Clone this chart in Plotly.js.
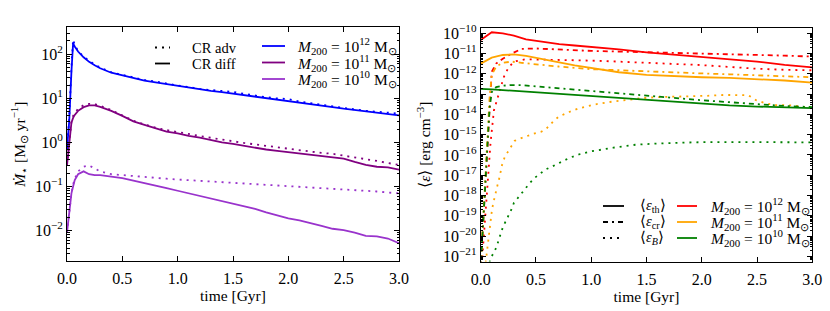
<!DOCTYPE html>
<html><head><meta charset="utf-8">
<script src="https://cdn.plot.ly/plotly-3.0.1.min.js"></script>
<style>html,body{margin:0;padding:0;background:#fff;}#chart{width:830px;height:311px;}</style>
</head><body><div id="chart"></div>
<script>
// ---------- Left panel: star formation rate [Msun/yr] ----------
const tSfr = [0, 0.02, 0.04, 0.055, 0.07, 0.1, 0.15, 0.2, 0.25, 0.3, 0.4, 0.5, 0.6, 0.7, 0.8, 0.9, 1.0, 1.1, 1.2, 1.3, 1.4, 1.5, 1.6, 1.7, 1.8, 1.9, 2.0, 2.1, 2.2, 2.3, 2.4, 2.5, 2.6, 2.7, 2.8, 2.9, 3.0];
const sfr12Diff = [0.7, 3, 40, 175, 150, 115, 85, 67, 56, 48, 38, 33, 29, 25, 23, 21, 19, 17.5, 15.8, 14.8, 13.8, 12.8, 11.8, 11.0, 10.2, 9.4, 8.8, 8.0, 7.4, 6.8, 6.3, 5.8, 5.4, 5.0, 4.7, 4.4, 4.1];
const sfr12Adv  = [0.7, 3.5, 50, 215, 160, 118, 88, 70, 58, 50, 39, 34, 30, 26, 24, 21.5, 19.5, 18, 16.3, 15.4, 14.6, 14.0, 12.6, 11.4, 10.6, 9.9, 9.6, 8.4, 7.7, 7.1, 6.5, 6.0, 5.6, 5.2, 4.9, 4.7, 4.5];
const sfr11Diff = [0.3, 1.0, 2.8, 3.6, 4.2, 5.2, 6.3, 6.9, 6.9, 6.4, 5.2, 4.0, 3.0, 2.5, 2.1, 1.75, 1.6, 1.4, 1.28, 1.12, 1.0, 0.92, 0.83, 0.75, 0.69, 0.64, 0.60, 0.56, 0.53, 0.50, 0.47, 0.43, 0.36, 0.31, 0.28, 0.27, 0.24];
const sfr11Adv  = [0.3, 1.0, 3.0, 4.0, 4.6, 5.8, 7.0, 7.5, 7.4, 6.8, 5.4, 4.1, 3.1, 2.55, 2.15, 1.9, 1.7, 1.55, 1.4, 1.27, 1.15, 1.05, 0.97, 0.9, 0.83, 0.77, 0.72, 0.67, 0.62, 0.58, 0.55, 0.5, 0.46, 0.42, 0.38, 0.34, 0.31];
const sfr10Diff = [0.009, 0.03, 0.07, 0.1, 0.14, 0.19, 0.22, 0.19, 0.18, 0.18, 0.17, 0.155, 0.135, 0.12, 0.105, 0.092, 0.08, 0.07, 0.061, 0.054, 0.048, 0.042, 0.036, 0.031, 0.026, 0.022, 0.019, 0.017, 0.015, 0.0128, 0.011, 0.0102, 0.009, 0.0076, 0.0074, 0.0066, 0.0052];
const sfr10Adv  = [0.009, 0.03, 0.07, 0.11, 0.15, 0.22, 0.28, 0.30, 0.26, 0.22, 0.19, 0.18, 0.172, 0.165, 0.157, 0.15, 0.144, 0.139, 0.134, 0.13, 0.126, 0.122, 0.118, 0.114, 0.11, 0.107, 0.104, 0.1, 0.097, 0.093, 0.09, 0.086, 0.083, 0.08, 0.077, 0.073, 0.07];

// ---------- Right panel: mean energy densities [erg/cm^3] ----------
const tTh = [0, 0.05, 0.1, 0.2, 0.3, 0.41, 0.55, 0.71, 0.85, 1.0, 1.25, 1.5, 1.75, 2.0, 2.25, 2.5, 2.75, 3.0];
const eTh12 = [4.7e-11, 7.6e-11, 1.12e-10, 1.0e-10, 7.6e-11, 5.0e-11, 3.8e-11, 2.95e-11, 2.5e-11, 2.15e-11, 1.6e-11, 1.15e-11, 8.9e-12, 7.1e-12, 5.4e-12, 4.0e-12, 2.8e-12, 2.1e-12];
const eTh11 = [3.2e-12, 4.7e-12, 6.3e-12, 8.5e-12, 9.1e-12, 7.6e-12, 5.6e-12, 3.7e-12, 2.6e-12, 1.9e-12, 1.2e-12, 8.9e-13, 7.6e-13, 6.8e-13, 6.3e-13, 5.6e-13, 4.7e-13, 3.7e-13];
const eTh10 = [1.8e-13, 1.78e-13, 1.7e-13, 1.58e-13, 1.45e-13, 1.35e-13, 1.2e-13, 1.07e-13, 9.3e-14, 7.9e-14, 6.3e-14, 5.1e-14, 4.1e-14, 3.3e-14, 2.8e-14, 2.45e-14, 2.2e-14, 2.05e-14];

const tCr = [0, 0.02, 0.04, 0.06, 0.08, 0.1, 0.14, 0.2, 0.28, 0.37, 0.5, 0.7, 1.0, 1.25, 1.5, 1.75, 2.0, 2.25, 2.5, 2.75, 3.0];
const eCr12 = [3.2e-22, 3.2e-20, 3.2e-18, 5.0e-16, 5.0e-14, 1.26e-12, 3.2e-12, 5.6e-12, 1.0e-11, 1.7e-11, 1.78e-11, 1.58e-11, 1.35e-11, 1.26e-11, 1.17e-11, 1.12e-11, 1.05e-11, 9.5e-12, 8.7e-12, 7.9e-12, 7.1e-12];
const eCr11 = [3.2e-22, 3.2e-20, 3.2e-18, 6.3e-16, 6.3e-14, 8.9e-13, 2.3e-12, 3.5e-12, 4.0e-12, 3.5e-12, 2.95e-12, 2.3e-12, 1.7e-12, 1.48e-12, 1.29e-12, 1.15e-12, 1.05e-12, 9.5e-13, 8.7e-13, 7.9e-13, 6.8e-13];
const eCr10 = [3.2e-22, 3.2e-20, 3.2e-18, 5.0e-16, 2.0e-14, 1.26e-13, 2.2e-13, 2.6e-13, 2.8e-13, 2.75e-13, 2.4e-13, 1.95e-13, 1.35e-13, 1.05e-13, 7.9e-14, 6.3e-14, 5.0e-14, 4.0e-14, 3.2e-14, 2.6e-14, 2.3e-14];

const tB12 = [0.01, 0.021, 0.03, 0.042, 0.051, 0.066, 0.081, 0.09, 0.12, 0.156, 0.186, 0.21, 0.25, 0.3, 0.4, 0.6, 0.8, 1.0, 1.25, 1.5, 1.75, 2.0, 2.25, 2.5, 2.75, 3.0];
const eB12 = [4.0e-22, 2.5e-21, 2.5e-20, 2.1e-19, 1.0e-18, 1.05e-17, 9.3e-17, 4.6e-16, 1.6e-14, 7.9e-14, 2.8e-13, 7.2e-13, 2.0e-12, 4.0e-12, 5.2e-12, 5.0e-12, 4.8e-12, 4.5e-12, 4.0e-12, 3.5e-12, 3.2e-12, 2.7e-12, 2.2e-12, 1.78e-12, 1.58e-12, 1.5e-12];
const tB11 = [0.045, 0.06, 0.07, 0.081, 0.09, 0.102, 0.115, 0.126, 0.14, 0.156, 0.17, 0.18, 0.193, 0.217, 0.247, 0.277, 0.307, 0.367, 0.43, 0.49, 0.55, 0.593, 0.633, 0.669, 0.71, 0.8, 0.89, 1.01, 1.15, 1.29, 1.45, 1.59, 1.75, 1.89, 2.05, 2.2, 2.35, 2.42, 2.49, 2.58, 2.67, 2.82, 3.0];
const eB11 = [5.0e-22, 2.5e-21, 7.9e-21, 3.2e-20, 7.9e-20, 2.0e-19, 4.5e-19, 8.9e-19, 1.78e-18, 4.0e-18, 7.9e-18, 1.41e-17, 3.2e-17, 7.9e-17, 1.48e-16, 2.8e-16, 5.0e-16, 6.8e-16, 9.1e-16, 1.17e-15, 1.41e-15, 1.95e-15, 3.3e-15, 5.4e-15, 7.9e-15, 1.32e-14, 2.0e-14, 2.95e-14, 4.0e-14, 5.1e-14, 6.3e-14, 7.1e-14, 7.4e-14, 7.6e-14, 8.3e-14, 9.1e-14, 9.3e-14, 8.9e-14, 5.1e-14, 3.5e-14, 2.9e-14, 2.8e-14, 2.05e-14];
const tB10 = [0.08, 0.09, 0.12, 0.146, 0.163, 0.18, 0.2, 0.226, 0.253, 0.277, 0.3, 0.337, 0.373, 0.412, 0.452, 0.494, 0.542, 0.593, 0.645, 0.693, 0.8, 0.9, 1.0, 1.2, 1.4, 1.6, 1.8, 2.0, 2.5, 3.0];
const eB10 = [5.0e-22, 8.3e-22, 1.58e-21, 3.2e-21, 6.6e-21, 1.26e-20, 2.7e-20, 5.4e-20, 1.05e-19, 2.0e-19, 4.3e-19, 7.4e-19, 1.41e-18, 2.5e-18, 4.6e-18, 7.9e-18, 1.26e-17, 2.0e-17, 2.7e-17, 3.6e-17, 7.1e-17, 1.12e-16, 1.51e-16, 2.3e-16, 3.2e-16, 3.7e-16, 4.1e-16, 4.3e-16, 4.3e-16, 4.2e-16];

// ---------- tick labels / legend names ----------
const xTickVals = [0, 0.5, 1.0, 1.5, 2.0, 2.5, 3.0];
const xTickText = ['0.0', '0.5', '1.0', '1.5', '2.0', '2.5', '3.0'];
const leftExp = [-2, -1, 0, 1, 2];
const rightExp = [-21, -20, -19, -18, -17, -16, -15, -14, -13, -12, -11, -10];
const massNames = ['<i>M</i><sub>200</sub> = 10<sup>12</sup> M<sub>⊙</sub>', '<i>M</i><sub>200</sub> = 10<sup>11</sup> M<sub>⊙</sub>', '<i>M</i><sub>200</sub> = 10<sup>10</sup> M<sub>⊙</sub>'];
const crNames = ['CR adv', 'CR diff'];
const eNames = ['⟨<i>ε</i><sub>th</sub>⟩', '⟨<i>ε</i><sub>cr</sub>⟩', '⟨<i>ε</i><sub><i>B</i></sub>⟩'];

const FONT = '"Liberation Serif", "Times New Roman", serif';
const FS = 15.5;    // titles and legends
const FT = 16;      // tick labels
const LW = 1.8;
const DOT = '2px,5px';
const DASHDOT = '5px,4px,2px,4px';
const cLeft = ['#0000ff', '#800080', '#9933cc'];
const cRight = ['#ff0000', '#ffa500', '#008000'];

function expLabel(p) { return '10<sup>' + (p < 0 ? '−' + (-p) : p) + '</sup>'; }
function minorVals(exps) {
  const v = [];
  for (let i = exps[0] - 1; i <= exps[exps.length - 1]; i++)
    for (let m = 2; m <= 9; m++) v.push(m * Math.pow(10, i));
  return v;
}

const traces = [];
const sDiff = [sfr12Diff, sfr11Diff, sfr10Diff];
const sAdv = [sfr12Adv, sfr11Adv, sfr10Adv];
for (let i = 0; i < 3; i++) {
  traces.push({x: tSfr, y: sAdv[i], mode: 'lines', line: {color: cLeft[i], width: LW, dash: DOT}, xaxis: 'x', yaxis: 'y'});
  traces.push({x: tSfr, y: sDiff[i], mode: 'lines', line: {color: cLeft[i], width: LW}, xaxis: 'x', yaxis: 'y'});
}
const eTh = [eTh12, eTh11, eTh10];
const eCr = [eCr12, eCr11, eCr10];
const tB = [tB12, tB11, tB10];
const eB = [eB12, eB11, eB10];
for (let i = 0; i < 3; i++) {
  traces.push({x: tB[i], y: eB[i], mode: 'lines', line: {color: cRight[i], width: LW, dash: DOT}, xaxis: 'x2', yaxis: 'y2'});
  traces.push({x: tCr, y: eCr[i], mode: 'lines', line: {color: cRight[i], width: LW, dash: DASHDOT}, xaxis: 'x2', yaxis: 'y2'});
  traces.push({x: tTh, y: eTh[i], mode: 'lines', line: {color: cRight[i], width: LW}, xaxis: 'x2', yaxis: 'y2'});
}

const W = 830, H = 311;
const px = x => x / W, py = y => 1 - y / H;
const axCommon = {
  showline: true, linecolor: 'black', linewidth: 1, mirror: 'ticks', ticks: 'inside',
  ticklen: 5, tickwidth: 1, tickcolor: 'black', showgrid: false, zeroline: false,
  tickfont: {family: FONT, size: FT, color: 'black'}
};
const xAxis = (dom, anchor) => Object.assign({}, axCommon, {
  domain: dom, anchor: anchor, range: [0, 3], tickmode: 'array', tickvals: xTickVals, ticktext: xTickText,
  ticklabelstandoff: 3,
  title: {text: 'time [Gyr]', font: {family: FONT, size: FS, color: 'black'}, standoff: 1}
});

// ---- hand-placed legends (sample line + label) ----
const shapes = [], annotations = [];
function legendRow(x0, x1, xt, y, style, label, fsize) {
  shapes.push({type: 'line', xref: 'paper', yref: 'paper', x0: px(x0), x1: px(x1), y0: py(y), y1: py(y),
    line: Object.assign({width: LW}, style)});
  annotations.push({xref: 'paper', yref: 'paper', x: px(xt), y: py(y), xanchor: 'left', yanchor: 'middle',
    showarrow: false, text: label, font: {family: FONT, size: fsize, color: 'black'}});
}
legendRow(155, 170, 190, 47.5, {color: 'black', dash: DOT}, crNames[0], 14.5);
legendRow(155, 170, 190, 63.5, {color: 'black'}, crNames[1], 14.5);
const leftRows = [46, 62.5, 79];
for (let i = 0; i < 3; i++) legendRow(262, 285, 295, leftRows[i], {color: cLeft[i]}, massNames[i], FS);
const rightRows = [206, 222, 238];
legendRow(603, 624, 638, rightRows[0], {color: 'black'}, eNames[0], 14.5);
legendRow(603, 624, 638, rightRows[1], {color: 'black', dash: DASHDOT}, eNames[1], 14.5);
legendRow(603, 624, 638, rightRows[2], {color: 'black', dash: DOT}, eNames[2], 14.5);
for (let i = 0; i < 3; i++) legendRow(677, 697, 708, rightRows[i], {color: cRight[i]}, massNames[i], FS);

const layout = {
  width: W, height: H, margin: {l: 0, r: 0, t: 0, b: 0},
  paper_bgcolor: 'white', plot_bgcolor: 'white', showlegend: false,
  font: {family: FONT, size: FS, color: 'black'},
  xaxis: xAxis([px(67), px(399)], 'y'),
  xaxis2: xAxis([px(480.7), px(812.3)], 'y2'),
  yaxis: Object.assign({}, axCommon, {
    domain: [py(261), py(27.3)], anchor: 'x', type: 'log', range: [-2.69, 2.61],
    tickmode: 'array', tickvals: leftExp.map(p => Math.pow(10, p)), ticktext: leftExp.map(expLabel),
    minor: {tickmode: 'array', tickvals: minorVals(leftExp), ticks: 'inside', ticklen: 2.5, tickcolor: 'black', showgrid: false},
    title: {text: '<i>Ṁ</i><sub>⋆</sub> [M<sub>⊙</sub> yr<sup>−1</sup>]', font: {family: FONT, size: FS, color: 'black'}, standoff: 5}
  }),
  yaxis2: Object.assign({}, axCommon, {
    domain: [py(261.5), py(28)], anchor: 'x2', type: 'log', range: [-21.25, -9.74],
    tickmode: 'array', tickvals: rightExp.map(p => Math.pow(10, p)), ticktext: rightExp.map(expLabel),
    minor: {tickmode: 'array', tickvals: minorVals(rightExp), ticks: 'inside', ticklen: 2.5, tickcolor: 'black', showgrid: false},
    title: {text: '⟨<i>ε</i>⟩ [erg cm<sup>−3</sup>]', font: {family: FONT, size: FS, color: 'black'}, standoff: 8}
  }),
  shapes: shapes,
  annotations: annotations
};

Plotly.newPlot('chart', traces, layout, {displayModeBar: false, staticPlot: true});
</script>
</body></html>
